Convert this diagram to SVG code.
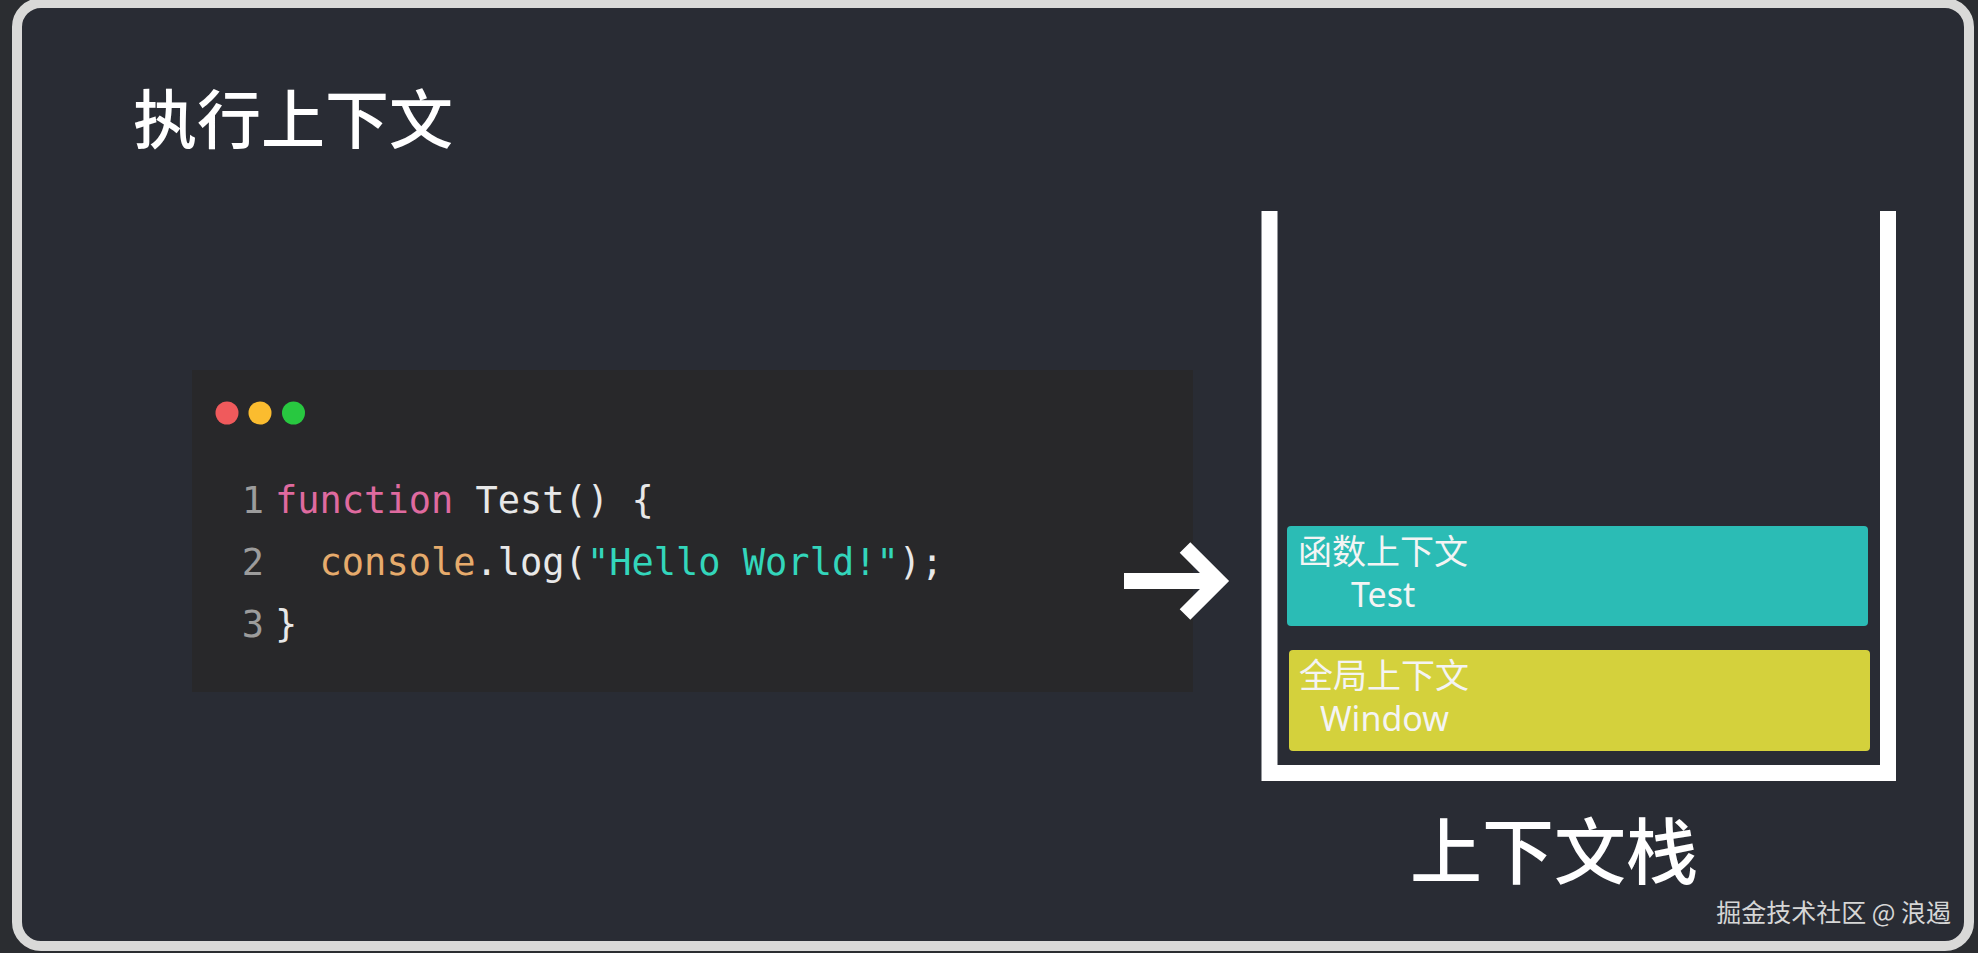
<svg xmlns="http://www.w3.org/2000/svg" width="1978" height="953" viewBox="0 0 1978 953">
  <style>
    .cjk { font-family: "Noto Sans CJK SC", "Noto Sans", sans-serif; }
    .code { font-family: "DejaVu Sans Mono", "Liberation Mono", monospace; font-size: 37px; }
    .ln { fill: #9c9c9c; }
    .kw { fill: #df6a9f; }
    .plain { fill: #e8e8e8; }
    .fn { fill: #e6ab6c; }
    .str { fill: #33d6bb; }
    .label { font-family: "Noto Sans CJK SC", "Noto Sans", sans-serif; font-size: 34px; fill: #f4f4f4; }
    .latin { font-family: "Noto Sans", "Open Sans", sans-serif; font-size: 34px; fill: #f4f4f4; }
  </style>
  <rect x="0" y="0" width="1978" height="953" fill="#2b2d31"/>
  <g id="frame">
    <rect x="17" y="3" width="1952" height="943" rx="24" ry="24" fill="#292c34" stroke="#d9d9d8" stroke-width="10"/>
  </g>
  <g id="title">
    <text x="133" y="143" class="cjk" font-size="64" font-weight="500" fill="#ffffff">执行上下文</text>
  </g>
  <g id="code-panel">
    <rect x="192" y="370" width="1001" height="322" fill="#28282a"/>
    <circle cx="227" cy="413" r="11.5" fill="#f05a5c"/>
    <circle cx="260" cy="413" r="11.5" fill="#fbbc2f"/>
    <circle cx="293.5" cy="413" r="11.5" fill="#28c840"/>
    <text class="code ln" x="264" y="513" text-anchor="end">1</text>
    <text class="code ln" x="264" y="575" text-anchor="end">2</text>
    <text class="code ln" x="264" y="637" text-anchor="end">3</text>
    <text class="code" x="275" y="513" xml:space="preserve"><tspan class="kw">function</tspan><tspan class="plain"> Test() {</tspan></text>
    <text class="code" x="275" y="575" xml:space="preserve"><tspan class="plain">  </tspan><tspan class="fn">console</tspan><tspan class="plain">.log(</tspan><tspan class="str">"Hello World!"</tspan><tspan class="plain">);</tspan></text>
    <text class="code plain" x="275" y="637">}</text>
  </g>
  <g id="connectors">
    <line x1="1124" y1="581" x2="1214" y2="581" stroke="#ffffff" stroke-width="16"/>
    <polyline points="1185,547.5 1218.5,581 1185,614.5" fill="none" stroke="#ffffff" stroke-width="15" stroke-linejoin="miter" stroke-linecap="butt"/>
  </g>
  <g id="stack">
    <path d="M1269.5,211 V773 H1888 V211" fill="none" stroke="#ffffff" stroke-width="16" stroke-linejoin="miter"/>
  </g>
  <g id="function-context">
    <rect x="1287" y="526" width="581" height="100" rx="4" ry="4" fill="#2bbcb5"/>
    <text class="label" x="1298" y="564">函数上下文</text>
    <text class="latin" x="1351" y="607">Test</text>
  </g>
  <g id="global-context">
    <rect x="1289" y="650" width="581" height="101" rx="4" ry="4" fill="#d4d13c"/>
    <text class="label" x="1299" y="688">全局上下文</text>
    <text class="latin" x="1320" y="731">Window</text>
  </g>
  <g id="stack-label">
    <text x="1410" y="878" class="cjk" font-size="72" font-weight="500" fill="#ffffff">上下文栈</text>
  </g>
  <g id="watermark">
    <text x="1951" y="922" class="cjk" font-size="25" fill="#d6d6d6" text-anchor="end">掘金技术社区 @ 浪遏</text>
  </g>
</svg>
